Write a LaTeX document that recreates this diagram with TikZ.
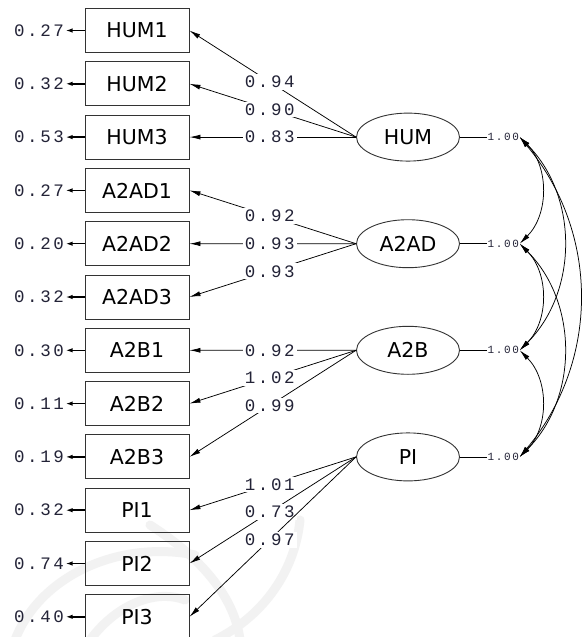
\documentclass[tikz,border=0pt]{standalone}
\usepackage{fontspec}
\setmainfont{DejaVu Sans}
\newfontfamily\numfont[LetterSpace=15]{Liberation Mono}
\usetikzlibrary{arrows.meta,shapes.geometric}
\definecolor{numcol}{RGB}{35,35,55}
\begin{document}
\begin{tikzpicture}[x=1pt,y=-1pt,
  obs/.style={draw=black!80, line width=0.9pt, minimum width=104pt, minimum height=44pt, inner sep=0pt, font=\fontsize{20.5}{20.5}\selectfont},
  lat/.style={ellipse, draw=black!80, line width=0.9pt, minimum width=103pt, minimum height=48pt, inner sep=0pt, font=\fontsize{20.5}{20.5}\selectfont},
  num/.style={font=\numfont\fontsize{17.5}{17.5}\selectfont, text=numcol, inner sep=1.5pt},
  lab/.style={num, fill=white, inner sep=2pt},
  small/.style={font=\numfont\fontsize{11}{11}\selectfont, text=numcol, inner sep=0.5pt},
  load/.style={-{Latex[length=11pt,width=5pt]}, line width=0.75pt},
  err/.style={-{Latex[length=7pt,width=4.5pt]}, line width=1.5pt},
  cov/.style={{Latex[length=11pt,width=5pt]}-{Latex[length=11pt,width=5pt]}, line width=0.75pt},
  wm/.style={draw=black!5, line width=9pt, line cap=round}
]
\useasboundingbox[fill=white] (0,0) rectangle (581,637);
% faint watermark
\draw[wm] (15,640) .. controls (40,575) and (120,540) .. (195,555);
\draw[wm] (150,525) .. controls (205,560) and (235,600) .. (240,640);
\draw[wm] (300,520) .. controls (295,570) and (265,615) .. (215,640);
\draw[wm] (90,640) .. controls (120,600) and (160,590) .. (185,600);
% observed variables and errors
\foreach \n/\v [count=\i from 0] in {HUM1/0.27,HUM2/0.32,HUM3/0.53,A2AD1/0.27,A2AD2/0.20,A2AD3/0.32,A2B1/0.30,A2B2/0.11,A2B3/0.19,PI1/0.32,PI2/0.74,PI3/0.40}{
  \node[obs] (\n) at (137,30.5+53.3*\i) {\n};
  \node[num] (e\n) at (39,30.5+53.3*\i) {\v};
  \draw[err] (\n.west) -- (e\n.east);
}
% latent variables
\node[lat] (HUM) at (408,137.1) {HUM};
\node[lat] (A2AD) at (408,243.7) {A2AD};
\node[lat] (A2B) at (408,350.3) {A2B};
\node[lat] (PI) at (408,456.9) {PI};
% loadings
\draw[load] (HUM.west) -- node[lab,pos=0.518]{0.94} (HUM1.east);
\draw[load] (HUM.west) -- node[lab,pos=0.518]{0.90} (HUM2.east);
\draw[load] (HUM.west) -- node[lab,pos=0.518]{0.83} (HUM3.east);
\draw[load] (A2AD.west) -- node[lab,pos=0.518]{0.92} (A2AD1.east);
\draw[load] (A2AD.west) -- node[lab,pos=0.518]{0.93} (A2AD2.east);
\draw[load] (A2AD.west) -- node[lab,pos=0.518]{0.93} (A2AD3.east);
\draw[load] (A2B.west) -- node[lab,pos=0.518]{0.92} (A2B1.east);
\draw[load] (A2B.west) -- node[lab,pos=0.518]{1.02} (A2B2.east);
\draw[load] (A2B.west) -- node[lab,pos=0.518]{0.99} (A2B3.east);
\draw[load] (PI.west) -- node[lab,pos=0.518]{1.01} (PI1.east);
\draw[load] (PI.west) -- node[lab,pos=0.518]{0.73} (PI2.east);
\draw[load] (PI.west) -- node[lab,pos=0.518]{0.97} (PI3.east);
% variances
\foreach \l in {HUM,A2AD,A2B,PI}{
  \path (\l.east) ++(27,0) node[small,anchor=west] (v\l) {1.00};
  \draw[line width=0.75pt] (\l.east) -- (v\l.west);
}
% covariances
\draw[cov] (vHUM.east) to[bend left=45] (vA2AD.east);
\draw[cov] (vHUM.east) to[bend left=45] (vA2B.east);
\draw[cov] (vHUM.east) to[bend left=40] (vPI.east);
\draw[cov] (vA2AD.east) to[bend left=45] (vA2B.east);
\draw[cov] (vA2AD.east) to[bend left=45] (vPI.east);
\draw[cov] (vA2B.east) to[bend left=45] (vPI.east);
\end{tikzpicture}
\end{document}
